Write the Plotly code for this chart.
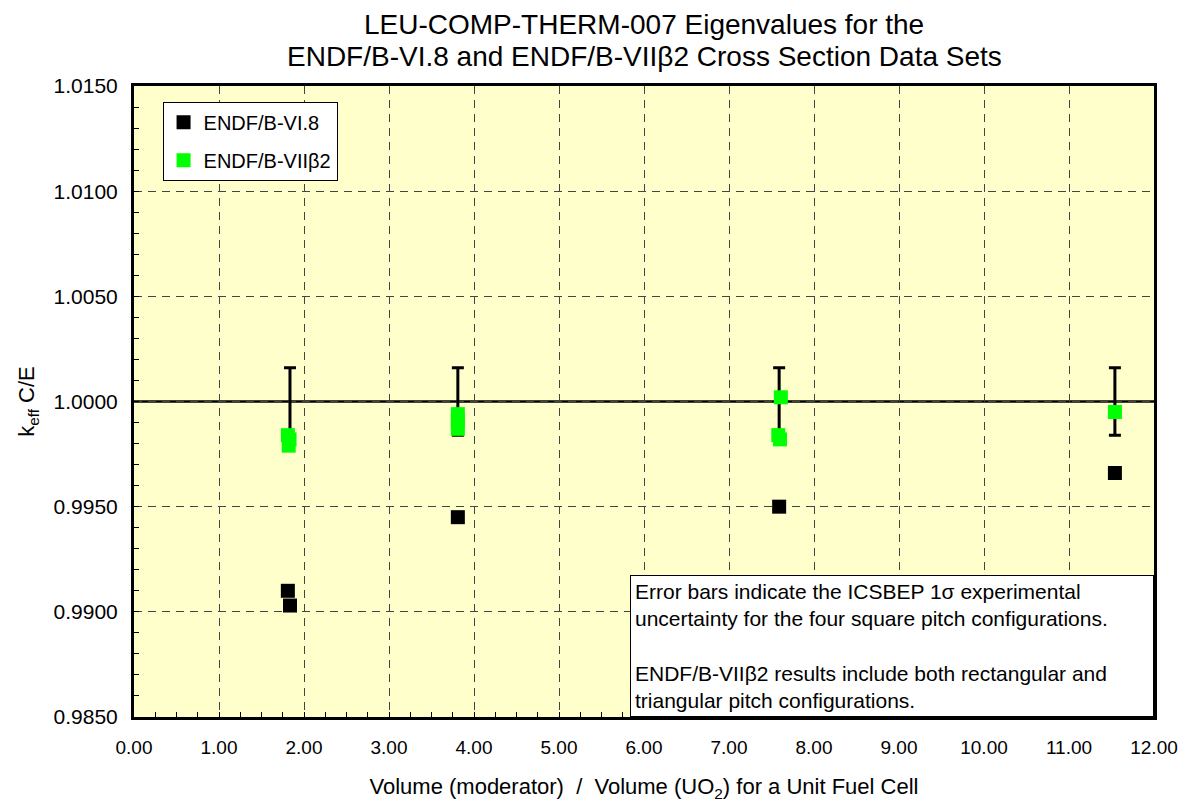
import plotly.graph_objects as go

# Moderator-to-fuel volume ratios and calculated/experimental k_eff
vi8_ratio = [1.81, 1.835, 3.81, 7.59, 11.54]
vi8_keff = [0.9910, 0.9903, 0.9945, 0.9950, 0.9966]

vii_ratio = [1.81, 1.83, 1.82, 3.81, 3.81, 3.81, 7.61, 7.58, 7.60, 11.54]
vii_keff = [0.9984, 0.9982, 0.9979, 0.9994, 0.9991, 0.9987, 1.0002, 0.9984, 0.9982, 0.9995]

# ICSBEP 1-sigma experimental uncertainty for the square pitch cases
exp_ratio = [1.835, 3.81, 7.59, 11.54]
exp_keff = [1.0, 1.0, 1.0, 1.0]
exp_sigma = [0.0016, 0.0016, 0.0016, 0.0016]

x_ticks = [0, 1, 2, 3, 4, 5, 6, 7, 8, 9, 10, 11, 12]
y_ticks = [0.985, 0.990, 0.995, 1.000, 1.005, 1.010, 1.015]

title_lines = ["LEU-COMP-THERM-007 Eigenvalues for the",
               "ENDF/B-VI.8 and ENDF/B-VIIβ2 Cross Section Data Sets"]

FONT = "Arial, Liberation Sans, sans-serif"

fig = go.Figure()

fig.add_trace(go.Scatter(
    x=exp_ratio, y=exp_keff, mode="markers",
    marker=dict(size=1, color="rgba(0,0,0,0)"),
    error_y=dict(type="data", array=exp_sigma, visible=True,
                 color="black", thickness=3, width=6),
    showlegend=False, hoverinfo="skip",
))

fig.add_trace(go.Scatter(
    x=vi8_ratio, y=vi8_keff, mode="markers", name="ENDF/B-VI.8",
    marker=dict(symbol="square", size=14, color="black"),
    legendgroup="a",
))

fig.add_trace(go.Scatter(
    x=vii_ratio, y=vii_keff, mode="markers", name="ENDF/B-VIIβ2",
    marker=dict(symbol="square", size=14, color="#00FF00"),
    legendgroup="b",
))

# Unity reference line
fig.add_shape(type="line", xref="paper", x0=0, x1=1, yref="y", y0=1.0, y1=1.0,
              line=dict(color="black", width=2.5), layer="below")

fig.update_layout(
    width=1184, height=802,
    margin=dict(l=134, r=30, t=86, b=85),
    paper_bgcolor="white",
    plot_bgcolor="#FFFFCC",
    font=dict(family=FONT, size=20, color="black"),
    showlegend=True,
    legend=dict(
        x=0.028, y=0.975, xanchor="left", yanchor="top",
        bgcolor="white", bordercolor="black", borderwidth=1,
        font=dict(size=20, family=FONT),
        traceorder="grouped", tracegroupgap=9,
    ),
    xaxis=dict(
        range=[0, 12], tickvals=x_ticks,
        ticktext=[f"{v:.2f}" for v in x_ticks],
        tickfont=dict(size=19),
        ticklabelstandoff=11,
        automargin=False,
        showgrid=True, gridcolor="#444444", griddash="8px,6px", gridwidth=1,
        showline=True, linewidth=3, linecolor="black", mirror=True,
        ticks="inside", ticklen=5, tickcolor="black",
        minor=dict(dtick=0.25, ticks="inside", ticklen=5, tickcolor="black", showgrid=False),
        zeroline=False,
        title=dict(text="Volume (moderator)  /  Volume (UO<sub>2</sub>) for a Unit Fuel Cell",
                   font=dict(size=22), standoff=24),
    ),
    yaxis=dict(
        range=[0.985, 1.015], tickvals=y_ticks,
        ticktext=[f"{v:.4f}" for v in y_ticks],
        tickfont=dict(size=21),
        ticklabelstandoff=9,
        automargin=False,
        showgrid=True, gridcolor="#444444", griddash="8px,6px", gridwidth=1,
        showline=True, linewidth=3, linecolor="black", mirror=True,
        ticks="inside", ticklen=5, tickcolor="black",
        minor=dict(dtick=0.001, ticks="inside", ticklen=5, tickcolor="black", showgrid=False),
        zeroline=False,
        title=dict(text="k<sub>eff</sub> C/E", font=dict(size=22), standoff=13),
    ),
)

# Two-line chart title
for line_text, ypos in zip(title_lines, [1.0967, 1.0475]):
    fig.add_annotation(
        xref="paper", yref="paper", x=0.5, y=ypos, xanchor="center", yanchor="middle",
        text=line_text, showarrow=False, font=dict(size=28, family=FONT),
    )

fig.add_annotation(
    xref="paper", yref="paper", x=1, y=0, xanchor="right", yanchor="bottom",
    text=("Error bars indicate the ICSBEP 1σ experimental<br>"
          "uncertainty for the four square pitch configurations.<br><br>"
          "ENDF/B-VIIβ2 results include both rectangular and<br>"
          "triangular pitch configurations."),
    showarrow=False, align="left", font=dict(size=21, family=FONT),
    bgcolor="white", bordercolor="black", borderwidth=1, borderpad=4,
    width=514,
)

fig.write_html("out.html")
